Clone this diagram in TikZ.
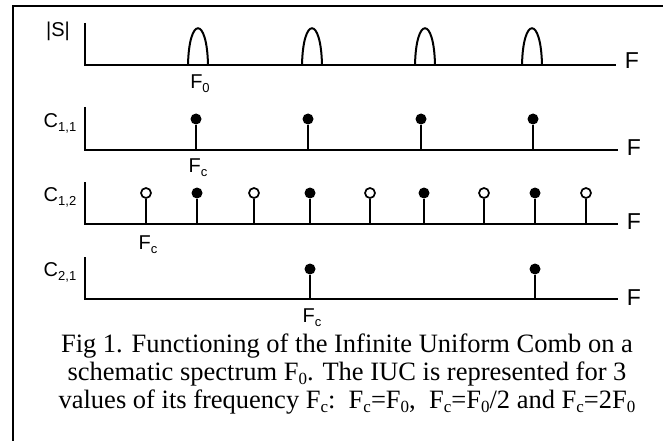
\documentclass[tikz,border=0pt]{standalone}
\usepackage{fontspec}
\setmainfont{Liberation Serif}
\newfontfamily\arial{Liberation Sans}
\newcommand{\lowsub}[1]{\raisebox{-0.35ex}{\fontsize{13}{14}\selectfont #1}}
\newcommand{\capsub}[1]{\raisebox{-0.35ex}{\fontsize{17}{18}\selectfont #1}}
\begin{document}
\begin{tikzpicture}[x=1pt,y=-1pt,
  axis/.style={line width=2pt},
  stem/.style={line width=1.8pt},
  lab/.style={font=\arial\fontsize{20}{21}\selectfont, inner sep=0pt},
  flab/.style={font=\arial\fontsize{23}{24}\selectfont, inner sep=0pt},
  fdot/.style={circle, fill=black, minimum size=11pt, inner sep=0pt},
  odot/.style={circle, draw=black, fill=white, line width=1.7pt, minimum size=10pt, inner sep=0pt},
  bump/.style={line width=2pt},
  captext/.style={font=\fontsize{26.5}{28}\selectfont, align=center, inner sep=0pt}]
\useasboundingbox (0,0) rectangle (663,441);
% frame
\coordinate (fb) at (13,441);
\coordinate (fc) at (13,6);
\coordinate (fr) at (663,6);
\draw[line width=2pt] (fb) -- (fc) -- (fr);

% Panel 1
\node[lab] (s) at (58,31) {|S|};
\coordinate (a1t) at (85,23);
\coordinate (a1o) at (85,65);
\coordinate (a1e) at (616,65);
\draw[axis] (a1t) -- (a1o) -- (a1e);
\node[flab] (f1) at (632,61) {F};
\foreach \c in {198,312,425,532}{
  \draw[bump] (\c-10,65) .. controls (\c-9,16) and (\c+9,16) .. (\c+10,65);
}
\node[lab] (f0) at (200,84) {F\lowsub{0}};

% Panel 2
\node[lab] (c11) at (60,123) {C\lowsub{1,1}};
\coordinate (a2t) at (85,107);
\coordinate (a2o) at (85,150);
\coordinate (a2e) at (618,150);
\draw[axis] (a2t) -- (a2o) -- (a2e);
\node[flab] (f2) at (634,148) {F};
\foreach \x/\n in {196/p1,308/p2,421/p3,533/p4}{
  \node[fdot] (\n) at (\x,119) {};
  \coordinate (\n b) at (\x,150);
  \draw[stem] (\n b) -- (\n);
}
\node[lab] (fc1) at (198,168) {F\lowsub{c}};

% Panel 3
\node[lab] (c12) at (60,197) {C\lowsub{1,2}};
\coordinate (a3t) at (85,182);
\coordinate (a3o) at (85,224);
\coordinate (a3e) at (618,224);
\draw[axis] (a3t) -- (a3o) -- (a3e);
\node[flab] (f3) at (634,222) {F};
\foreach \x/\n in {146/q1,254/q3,370/q5,484/q7,586/q9}{
  \node[odot] (\n) at (\x,193) {};
  \coordinate (\n b) at (\x,224);
  \draw[stem] (\n b) -- (\n);
}
\foreach \x/\n in {197/q2,310/q4,424/q6,535/q8}{
  \node[fdot] (\n) at (\x,193) {};
  \coordinate (\n b) at (\x,224);
  \draw[stem] (\n b) -- (\n);
}
\node[lab] (fc2) at (148,245) {F\lowsub{c}};

% Panel 4
\node[lab] (c21) at (60,272) {C\lowsub{2,1}};
\coordinate (a4t) at (85,257);
\coordinate (a4o) at (85,299);
\coordinate (a4e) at (618,299);
\draw[axis] (a4t) -- (a4o) -- (a4e);
\node[flab] (f4) at (634,298) {F};
\foreach \x/\n in {310/r1,535/r2}{
  \node[fdot] (\n) at (\x,269) {};
  \coordinate (\n b) at (\x,299);
  \draw[stem] (\n b) -- (\n);
}
\node[lab] (fc3) at (312,318) {F\lowsub{c}};

% Caption
\node[captext] (caption) at (347,374) {Fig 1. Functioning of the Infinite Uniform Comb on a\\
schematic spectrum F\capsub{0}. The IUC is represented for 3\\
values of its frequency F\capsub{c}:\ \ F\capsub{c}=F\capsub{0},\ \ F\capsub{c}=F\capsub{0}/2 and F\capsub{c}=2F\capsub{0}};
\end{tikzpicture}
\end{document}
